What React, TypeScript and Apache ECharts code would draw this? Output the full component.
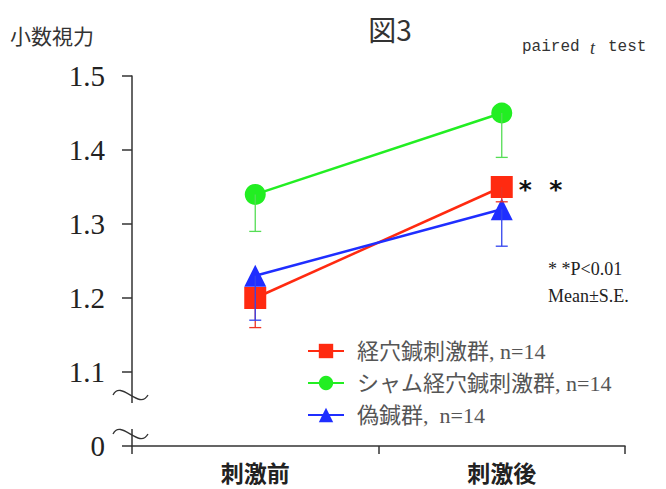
import React, { useEffect, useRef } from "react";
import * as echarts from "echarts";

const categories = ["刺激前", "刺激後"];
const yTicks = [1.0, 1.1, 1.2, 1.3, 1.4, 1.5];

const acuName = "経穴鍼刺激群, n=14";
const acuMean = [1.2, 1.35];
const acuLow = [1.16, 1.33];

const shamName = "シャム経穴鍼刺激群, n=14";
const shamMean = [1.34, 1.45];
const shamLow = [1.29, 1.39];

const pseudoName = "偽鍼群,  n=14";
const pseudoMean = [1.23, 1.32];
const pseudoLow = [1.17, 1.27];

const RED = "#ff2a10";
const GREEN = "#22ee22";
const BLUE = "#1f2eff";

function errSeries(name: string, mean: number[], low: number[], color: string) {
  return {
    type: "custom",
    name: name + "_err",
    z: 5,
    silent: true,
    data: mean.map((m, i) => [i, m, low[i]]),
    renderItem: (params: any, api: any) => {
      const i = api.value(0);
      const p1 = api.coord([i, api.value(1)]);
      const p2 = api.coord([i, api.value(2)]);
      return {
        type: "group",
        children: [
          { type: "line", shape: { x1: p1[0], y1: p1[1], x2: p2[0], y2: p2[1] }, style: { stroke: color, lineWidth: 1.3 } },
          { type: "line", shape: { x1: p2[0] - 6, y1: p2[1], x2: p2[0] + 6, y2: p2[1] }, style: { stroke: color, lineWidth: 1.3 } },
        ],
      };
    },
  };
}

export default function App() {
  const ref = useRef<HTMLDivElement>(null);
  useEffect(() => {
    const chart = echarts.init(ref.current!, null, { renderer: "svg" });
    const tilde = (cy: number) => ({
      type: "bezierCurve",
      z: 101,
      shape: { x1: 113, y1: cy, cpx1: 121, cpy1: cy - 16, cpx2: 139, cpy2: cy + 16, x2: 148, y2: cy },
      style: { stroke: "#333", lineWidth: 1.3, fill: null },
    });
    chart.setOption({
      animation: false,
      grid: { left: 132, right: 41, top: 76, bottom: 43, containLabel: false },
      xAxis: {
        type: "category",
        data: categories,
        boundaryGap: true,
        axisLine: { lineStyle: { color: "#333", width: 1.5 } },
        axisTick: { show: true, length: 8, alignWithLabel: false, lineStyle: { color: "#333", width: 1.5 } },
        axisLabel: { fontFamily: "Noto Sans CJK JP", fontWeight: "bold", fontSize: 23, color: "#222", margin: 14 },
      },
      yAxis: {
        type: "value",
        min: 1.0,
        max: 1.5,
        interval: 0.1,
        splitLine: { show: false },
        axisLine: { show: true, lineStyle: { color: "#333", width: 1.5 } },
        axisTick: { show: true, length: 10, lineStyle: { color: "#333", width: 1.5 } },
        axisLabel: {
          fontFamily: "Liberation Serif",
          fontSize: 29,
          color: "#222",
          margin: 27,
          formatter: (v: number) => (Math.abs(v - 1) < 1e-9 ? "0" : v.toFixed(1)),
        },
      },
      legend: {
        orient: "vertical",
        left: 302,
        top: 335,
        itemWidth: 36,
        itemHeight: 18,
        itemGap: 10,
        data: [acuName, shamName, pseudoName],
        textStyle: { fontFamily: "Liberation Serif, Noto Sans CJK JP", fontSize: 22, color: "#555", padding: [0, 0, 0, 8] },
      },
      graphic: [
        { type: "rect", z: 100, shape: { x: 127, y: 403, width: 10, height: 26 }, style: { fill: "#fff" } },
        tilde(395),
        tilde(434),
        { type: "text", z: 100, x: 390, y: 29, style: { text: "図3", font: "28px 'Noto Sans CJK JP'", fill: "#333", align: "center", verticalAlign: "middle" } },
        { type: "text", z: 100, x: 10, y: 35, style: { text: "小数視力", font: "21px 'Noto Sans CJK JP'", fill: "#333", verticalAlign: "middle" } },
        { type: "text", z: 100, x: 522, y: 47, style: { text: "paired ", font: "16px 'Liberation Mono'", fill: "#333", verticalAlign: "middle" } },
        { type: "text", z: 100, x: 590, y: 48, style: { text: "t", font: "italic 18px 'Liberation Serif'", fill: "#333", verticalAlign: "middle" } },
        { type: "text", z: 100, x: 608, y: 47, style: { text: "test", font: "16px 'Liberation Mono'", fill: "#333", verticalAlign: "middle" } },
        { type: "text", z: 100, x: 548, y: 269, style: { text: "* *P<0.01", font: "18px 'Liberation Serif'", fill: "#222", verticalAlign: "middle" } },
        { type: "text", z: 100, x: 548, y: 296, style: { text: "Mean±S.E.", font: "18px 'Liberation Serif'", fill: "#222", verticalAlign: "middle" } },
      ],
      series: [
        {
          name: acuName,
          type: "line",
          data: acuMean.map((v, i) =>
            i === 1
              ? { value: v, label: { show: true, position: "right", distance: 6, formatter: "*  *", fontSize: 25, fontWeight: "bold", fontFamily: "DejaVu Sans", color: "#111", offset: [0, 2] } }
              : v
          ),
          symbol: "rect",
          symbolSize: 22,
          itemStyle: { color: RED },
          lineStyle: { color: RED, width: 2.5 },
          z: 2,
        },
        {
          name: shamName,
          type: "line",
          data: shamMean,
          symbol: "circle",
          symbolSize: 21,
          itemStyle: { color: GREEN },
          lineStyle: { color: GREEN, width: 2.5 },
          z: 2,
        },
        {
          name: pseudoName,
          type: "line",
          data: pseudoMean,
          symbol: "triangle",
          symbolSize: 22,
          itemStyle: { color: BLUE },
          lineStyle: { color: BLUE, width: 2.5 },
          z: 3,
        },
        errSeries(acuName, acuMean, acuLow, "#ee3322"),
        errSeries(shamName, shamMean, shamLow, "#55dd55"),
        errSeries(pseudoName, pseudoMean, pseudoLow, "#3344ee"),
      ],
    });
    return () => chart.dispose();
  }, []);
  return <div ref={ref} style={{ position: "absolute", left: 0, top: 0, width: 666, height: 489 }} />;
}
